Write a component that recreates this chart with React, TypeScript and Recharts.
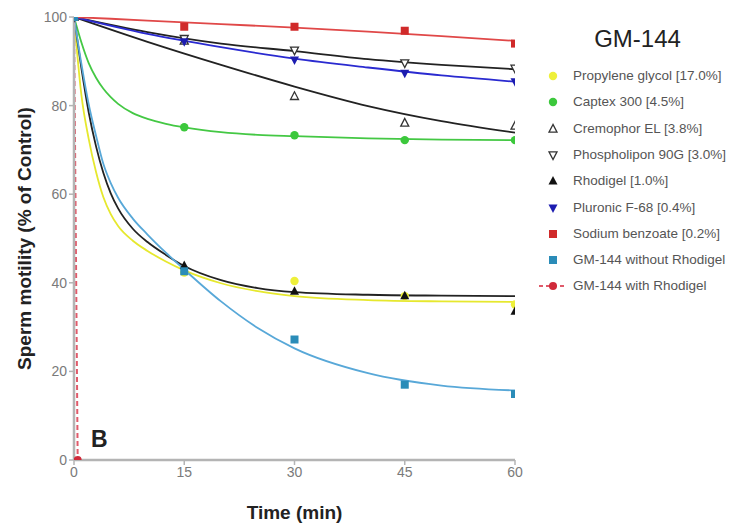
import React from 'react';
import { ComposedChart, Line, Scatter, XAxis, YAxis, Label } from 'recharts';

const FONT = '"Liberation Sans", Arial, sans-serif';

// Measured time points (min)
const timePoints = [0, 15, 30, 45, 60];
const gmWithTimes = [0, 0.5];

// Measured marker values (% of control)
const propyleneGlycolPts = [100, 42.3, 40.4, 37.0, 35.1];
const captexPts = [100, 75.1, 73.3, 72.2, 72.2];
const cremophorPts = [100, 94.6, 82.1, 76.1, 75.4];
const phospholiponPts = [100, 95.1, 92.5, 89.6, 88.4];
const rhodigelPts = [100, 43.9, 38.1, 37.1, 33.6];
const pluronicPts = [100, 94.4, 90.3, 87.3, 85.4];
const sodiumBenzoatePts = [100, 97.8, 97.8, 96.9, 94.0];
const gmWithoutPts = [100, 42.6, 27.2, 17.0, 14.9];
const gmWithPts = [100, 0];

// Fitted curves
const fastCurveTimes = [0, 1, 2, 3, 4, 5, 6, 8, 10, 12.5, 15, 20, 25, 30, 40, 50, 60];
const propyleneGlycolCurve = [100, 82.5, 72.5, 65, 59.3, 55.5, 52.8, 49.5, 47.2, 44.8, 42.8, 39.9, 38.1, 37.0, 36.1, 35.8, 35.7];
const rhodigelCurve = [100, 88.5, 78.5, 70.8, 64.8, 60.2, 56.8, 52.2, 49.2, 46.3, 43.8, 40.6, 38.8, 37.9, 37.3, 37.1, 37.0];
const gmWithoutCurve = [100, 89.5, 80.3, 73.2, 66.8, 62.5, 59.2, 54.5, 50.9, 46.8, 43.0, 35.8, 29.8, 25.2, 19.6, 16.8, 15.7];
const captexCurve = [100, 94.3, 89.6, 86.3, 83.8, 81.9, 80.4, 78.3, 77.0, 75.9, 75.1, 74.0, 73.4, 73.1, 72.6, 72.3, 72.2];

const slowCurveTimes = [0, 10, 20, 30, 40, 50, 60];
const sodiumBenzoateCurve = [100, 99.2, 98.4, 97.6, 96.7, 95.7, 94.6];
const phospholiponCurve = [100, 96.6, 94.0, 92.3, 90.5, 89.2, 88.2];
const pluronicCurve = [100, 96.2, 93.2, 90.6, 88.6, 86.8, 85.4];
const cremophorCurve = [100, 94.4, 89.2, 84.3, 79.9, 76.5, 73.9];

const xTicks = [0, 15, 30, 45, 60];
const yTicks = [0, 20, 40, 60, 80, 100];

const legendNames = [
  'Propylene glycol [17.0%]',
  'Captex 300 [4.5%]',
  'Cremophor EL [3.8%]',
  'Phospholipon 90G [3.0%]',
  'Rhodigel [1.0%]',
  'Pluronic F-68 [0.4%]',
  'Sodium benzoate [0.2%]',
  'GM-144 without Rhodigel',
  'GM-144 with Rhodigel',
];

type Kind = 'circle' | 'square' | 'triUp' | 'triDown' | 'triUpOpen' | 'triDownOpen';

const toXY = (xs: number[], ys: number[]) => xs.map((x, i) => ({ x, y: ys[i] }));

const series = [
  { name: legendNames[0], kind: 'circle' as Kind, color: '#eef03a', lineColor: '#e6e82e', pts: toXY(timePoints, propyleneGlycolPts), curve: toXY(fastCurveTimes, propyleneGlycolCurve) },
  { name: legendNames[1], kind: 'circle' as Kind, color: '#3cc83c', lineColor: '#44c844', pts: toXY(timePoints, captexPts), curve: toXY(fastCurveTimes, captexCurve) },
  { name: legendNames[2], kind: 'triUpOpen' as Kind, color: '#333333', lineColor: '#222222', pts: toXY(timePoints, cremophorPts), curve: toXY(slowCurveTimes, cremophorCurve) },
  { name: legendNames[3], kind: 'triDownOpen' as Kind, color: '#333333', lineColor: '#222222', pts: toXY(timePoints, phospholiponPts), curve: toXY(slowCurveTimes, phospholiponCurve) },
  { name: legendNames[4], kind: 'triUp' as Kind, color: '#111111', lineColor: '#222222', pts: toXY(timePoints, rhodigelPts), curve: toXY(fastCurveTimes, rhodigelCurve) },
  { name: legendNames[5], kind: 'triDown' as Kind, color: '#1c1cb0', lineColor: '#2a2ad0', pts: toXY(timePoints, pluronicPts), curve: toXY(slowCurveTimes, pluronicCurve) },
  { name: legendNames[6], kind: 'square' as Kind, color: '#d02a2a', lineColor: '#e04848', pts: toXY(timePoints, sodiumBenzoatePts), curve: toXY(slowCurveTimes, sodiumBenzoateCurve) },
  { name: legendNames[7], kind: 'square' as Kind, color: '#2a8cb8', lineColor: '#58a8d8', pts: toXY(timePoints, gmWithoutPts), curve: toXY(fastCurveTimes, gmWithoutCurve) },
];

const gmWith = toXY(gmWithTimes, gmWithPts);

function marker(kind: Kind, cx: number, cy: number, color: string, key?: string) {
  switch (kind) {
    case 'circle':
      return <circle key={key} cx={cx} cy={cy} r={4.2} fill={color} />;
    case 'square':
      return <rect key={key} x={cx - 4} y={cy - 4} width={8} height={8} fill={color} />;
    case 'triUp':
      return <polygon key={key} points={`${cx},${cy - 5} ${cx - 4.5},${cy + 3.5} ${cx + 4.5},${cy + 3.5}`} fill={color} />;
    case 'triDown':
      return <polygon key={key} points={`${cx},${cy + 5} ${cx - 4.5},${cy - 3.5} ${cx + 4.5},${cy - 3.5}`} fill={color} />;
    case 'triUpOpen':
      return <polygon key={key} points={`${cx},${cy - 4.5} ${cx - 4},${cy + 3.2} ${cx + 4},${cy + 3.2}`} fill="#fff" stroke={color} strokeWidth={1.3} />;
    case 'triDownOpen':
      return <polygon key={key} points={`${cx},${cy + 4.5} ${cx - 4},${cy - 3.2} ${cx + 4},${cy - 3.2}`} fill="#fff" stroke={color} strokeWidth={1.3} />;
  }
}

const axisStroke = '#b4b4b4';

export default function App() {
  return (
    <div style={{ position: 'absolute', left: 0, top: 0, width: 730, height: 525, background: '#fff', fontFamily: FONT }}>
      <ComposedChart width={730} height={525} margin={{ top: 17, right: 215, bottom: 0, left: 0 }}>
        <XAxis
          dataKey="x"
          type="number"
          domain={[0, 60]}
          ticks={xTicks}
          allowDataOverflow
          height={65}
          tickSize={5}
          axisLine={{ stroke: axisStroke, strokeWidth: 2.5 }}
          tickLine={{ stroke: axisStroke, strokeWidth: 1.5 }}
          tick={{ fill: '#7a7a7a', fontSize: 14, fontFamily: FONT }}
        >
          <Label value="Time (min)" position="insideBottom" offset={6} style={{ fontWeight: 'bold', fontSize: 19, fill: '#222', fontFamily: FONT }} />
        </XAxis>
        <YAxis
          dataKey="y"
          type="number"
          domain={[0, 100]}
          ticks={yTicks}
          allowDataOverflow
          width={74}
          tickSize={5}
          axisLine={{ stroke: axisStroke, strokeWidth: 2.5 }}
          tickLine={{ stroke: axisStroke, strokeWidth: 1.5 }}
          tick={{ fill: '#7a7a7a', fontSize: 14, fontFamily: FONT }}
        >
          <Label value="Sperm motility (% of Control)" angle={-90} position="insideLeft" offset={24} style={{ textAnchor: 'middle', fontWeight: 'bold', fontSize: 19, fill: '#222', fontFamily: FONT }} />
        </YAxis>
        {series.map((s) => (
          <Line key={'c' + s.name} data={s.curve} dataKey="y" type="monotone" stroke={s.lineColor} strokeWidth={1.8} dot={false} isAnimationActive={false} />
        ))}
        <Line data={gmWith} dataKey="y" type="linear" stroke="#e05a6a" strokeWidth={2} strokeDasharray="5 3" dot={false} isAnimationActive={false} />
        {series.map((s) => (
          <Scatter key={'p' + s.name} data={s.pts} dataKey="y" isAnimationActive={false} shape={(p: any) => marker(s.kind, p.cx, p.cy, s.color)} />
        ))}
        <Scatter data={gmWith.slice(1)} dataKey="y" isAnimationActive={false} shape={(p: any) => <circle cx={p.cx} cy={p.cy} r={4} fill="#d02a3a" />} />
      </ComposedChart>

      <div style={{ position: 'absolute', left: 91, top: 426, fontSize: 23, fontWeight: 'bold', color: '#222', lineHeight: '26px' }}>B</div>

      <div style={{ position: 'absolute', left: 585, width: 105, top: 25, textAlign: 'center', fontSize: 24, color: '#222', lineHeight: '28px' }}>GM-144</div>

      {legendNames.map((name, i) => {
        const y = 76 + 26.3 * i;
        const s = series[i];
        return (
          <div key={name} style={{ position: 'absolute', left: 537, top: y - 9, height: 18, display: 'flex', alignItems: 'center', whiteSpace: 'nowrap' }}>
            <svg width={30} height={18} style={{ display: 'block' }}>
              {s ? marker(s.kind, 16, 9, s.color) : (
                <g>
                  <line x1={2} y1={9} x2={28} y2={9} stroke="#e05a6a" strokeWidth={1.8} strokeDasharray="4 3" />
                  <circle cx={16} cy={9} r={4} fill="#d02a3a" />
                </g>
              )}
            </svg>
            <span style={{ marginLeft: 6, fontSize: 13.5, color: '#555', lineHeight: '18px' }}>{name}</span>
          </div>
        );
      })}
    </div>
  );
}
